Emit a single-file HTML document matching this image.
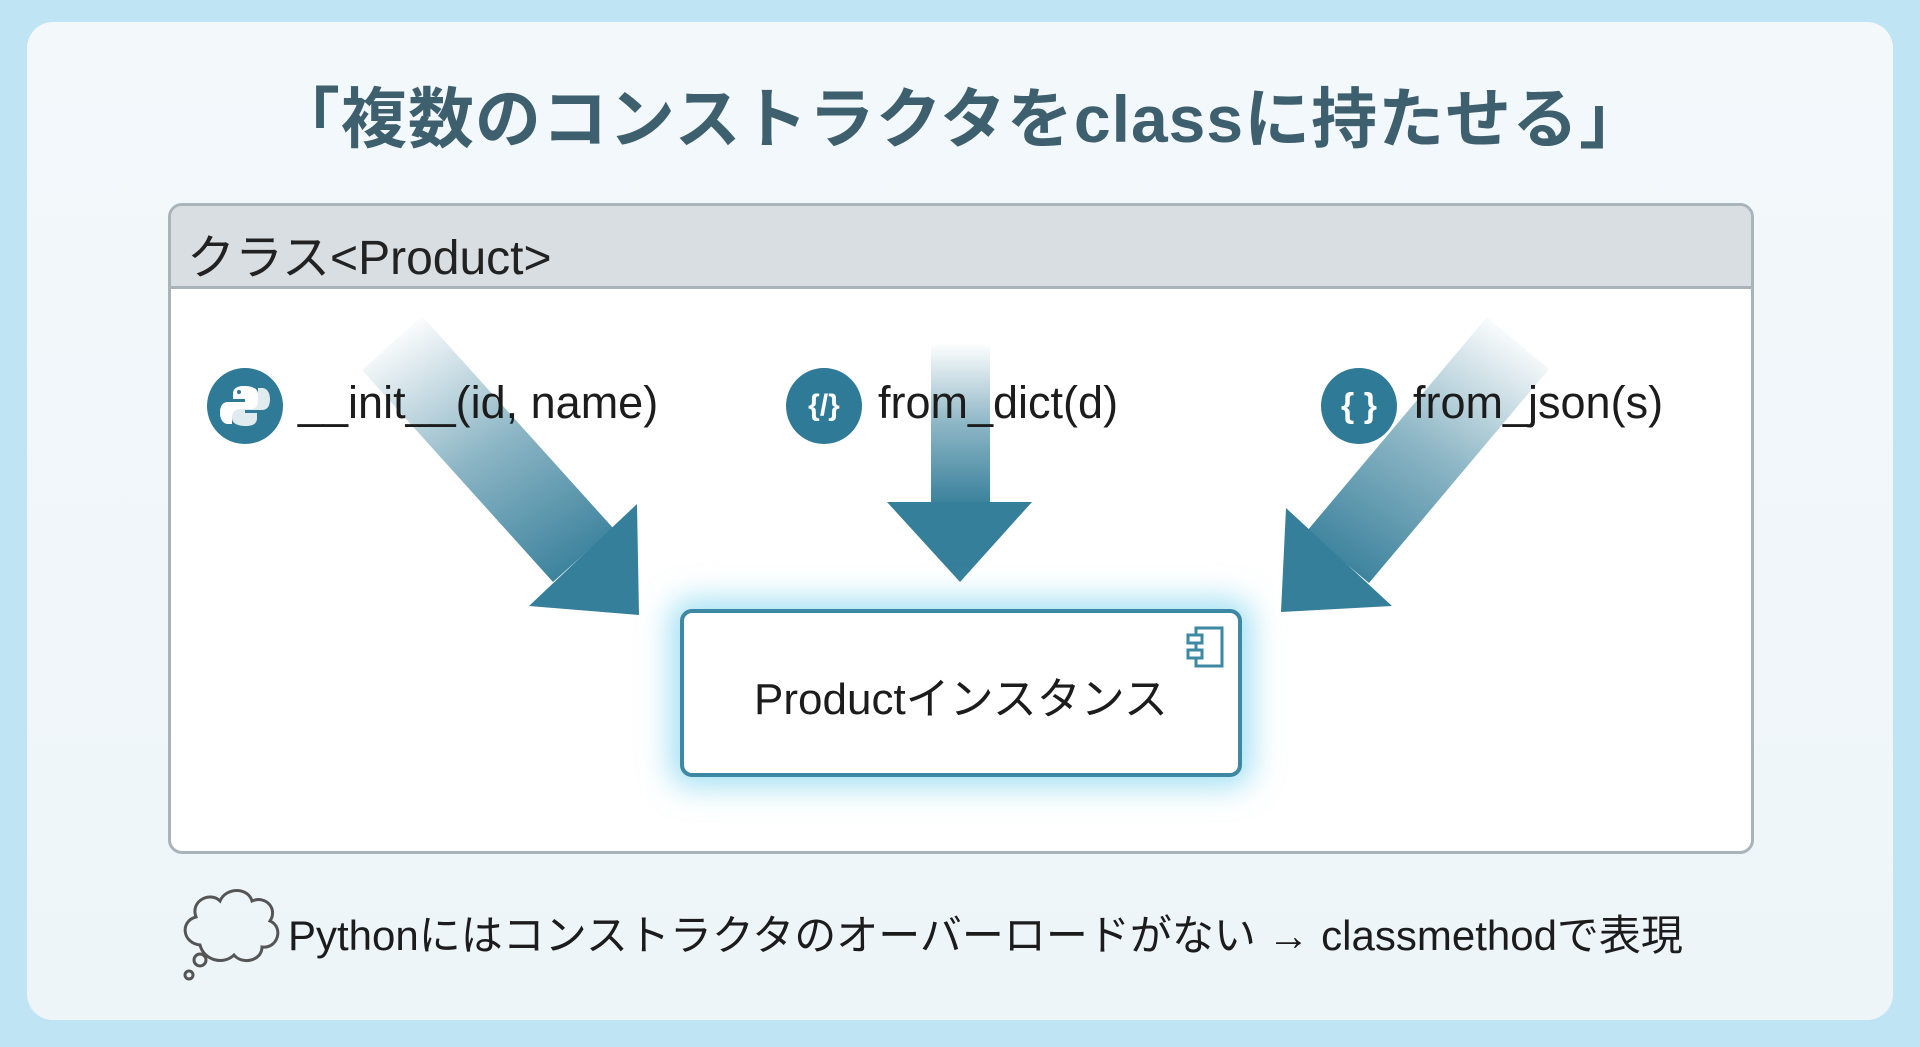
<!DOCTYPE html>
<html><head><meta charset="utf-8"><style>
html,body{margin:0;padding:0;width:1920px;height:1047px;overflow:hidden;background:#bfe4f4;font-family:"Liberation Sans","Noto Sans CJK JP",sans-serif;}
.card{position:absolute;left:27px;top:22px;width:1866px;height:998px;border-radius:26px;background:linear-gradient(180deg,#f3f8fb,#eef5f9);}
.title{position:absolute;left:0;width:1920px;top:66px;text-align:center;font-size:66px;font-weight:bold;color:#3e5f6e;letter-spacing:1px;}
.cls{position:absolute;left:168px;top:203px;width:1580px;height:645px;border:3px solid #a9b3ba;border-radius:14px;background:#fff;overflow:hidden;}
.hdr{position:absolute;left:0;top:0;width:100%;height:80px;background:#d9dee2;border-bottom:3px solid #a9b3ba;}
.hdr span{position:absolute;left:16px;top:12px;font-size:48px;color:#222;}
.lbl{position:absolute;font-size:45px;color:#1c1c1c;top:377px;}
.ic{position:absolute;width:76px;height:76px;border-radius:50%;background:#2f7a96;color:#fff;font-size:34px;font-weight:bold;text-align:center;line-height:76px;top:368px;}
.prod{position:absolute;left:680px;top:609px;width:554px;height:160px;border:4px solid #3d88a3;border-radius:12px;background:#fff;box-shadow:0 0 30px 10px rgba(90,200,235,.55);}
.prod span{position:absolute;left:0;width:100%;top:50px;text-align:center;font-size:44px;color:#1c1c1c;}
.foot{position:absolute;left:288px;top:902px;font-size:42px;color:#1c1c1c;}
</style></head><body>
<div class="card"></div>
<div class="title">「複数のコンストラクタをclassに持たせる」</div>
<div class="cls"><div class="hdr"><span>クラス&lt;Product&gt;</span></div></div>
<svg width="1920" height="1047" style="position:absolute;left:0;top:0">
<defs>
<linearGradient id="g1" x1="0" y1="0" x2="0" y2="1"><stop offset="0" stop-color="#2f7a96" stop-opacity="0"/><stop offset="0.5" stop-color="#2f7a96" stop-opacity="0.55"/><stop offset="1" stop-color="#2f7a96" stop-opacity="0.95"/></linearGradient>
<linearGradient id="gl" x1="0.2" y1="0" x2="0.8" y2="1"><stop offset="0" stop-color="#2f7a96" stop-opacity="0"/><stop offset="0.5" stop-color="#2f7a96" stop-opacity="0.55"/><stop offset="1" stop-color="#2f7a96" stop-opacity="0.95"/></linearGradient>
<linearGradient id="gr" x1="0.8" y1="0" x2="0.2" y2="1"><stop offset="0" stop-color="#2f7a96" stop-opacity="0"/><stop offset="0.5" stop-color="#2f7a96" stop-opacity="0.55"/><stop offset="1" stop-color="#2f7a96" stop-opacity="0.95"/></linearGradient>
</defs>
<polygon points="422,316 362,370 553,582 613,528" fill="url(#gl)"/>
<polygon points="529,606 637,504 639,615" fill="#367f9a"/>
<rect x="931" y="343" width="59" height="162" fill="url(#g1)"/>
<polygon points="887,502 1032,502 960,582" fill="#367f9a"/>
<polygon points="1549,369 1487,317 1307,531 1369,583" fill="url(#gr)"/>
<polygon points="1281,612 1286,508 1392,606" fill="#367f9a"/>
<g fill="none" stroke="#555" stroke-width="3">
<path d="M200,945 c-18,-2 -20,-24 -4,-28 c-6,-16 14,-26 24,-16 c6,-14 28,-14 32,0 c14,-6 26,8 18,20 c14,6 8,28 -8,26 c0,14 -20,18 -28,8 c-10,10 -30,6 -34,-10 z"/>
<circle cx="200" cy="960" r="6"/><circle cx="189" cy="975" r="4"/>
</g>
</svg>
<div class="ic" style="left:207px">
<svg width="76" height="76" viewBox="0 0 76 76"><path d="M37,18 c-9,0 -11,4 -11,8 v5 h12 v3 h-17 c-6,0 -8,5 -8,11 c0,6 3,11 8,11 h4 v-7 c0,-5 4,-8 8,-8 h11 c4,0 7,-3 7,-7 v-8 c0,-5 -5,-8 -14,-8z M32,22 a2,2 0 1,1 0,4 a2,2 0 1,1 0,-4z" fill="#fff"/><path d="M39,58 c9,0 11,-4 11,-8 v-5 h-12 v-3 h17 c6,0 8,-5 8,-11 c0,-6 -3,-11 -8,-11 h-4 v7 c0,5 -4,8 -8,8 h-11 c-4,0 -7,3 -7,7 v8 c0,5 5,8 14,8z" fill="#fff" opacity="0.85"/></svg></div>
<div class="lbl" style="left:298px">__init__(id, name)</div>
<div class="ic" style="left:786px;font-size:30px">{/}</div>
<div class="lbl" style="left:878px">from_dict(d)</div>
<div class="ic" style="left:1321px">{ }</div>
<div class="lbl" style="left:1413px">from_json(s)</div>
<div class="prod"><span>Productインスタンス</span>
<svg style="position:absolute;left:500px;top:12px" width="46" height="44"><rect x="12" y="3" width="26" height="38" fill="none" stroke="#3d88a3" stroke-width="3"/><rect x="4" y="10" width="14" height="8" fill="#fff" stroke="#3d88a3" stroke-width="3"/><rect x="4" y="25" width="14" height="8" fill="#fff" stroke="#3d88a3" stroke-width="3"/></svg></div>
<div class="foot">Pythonにはコンストラクタのオーバーロードがない → classmethodで表現</div>
</body></html>
